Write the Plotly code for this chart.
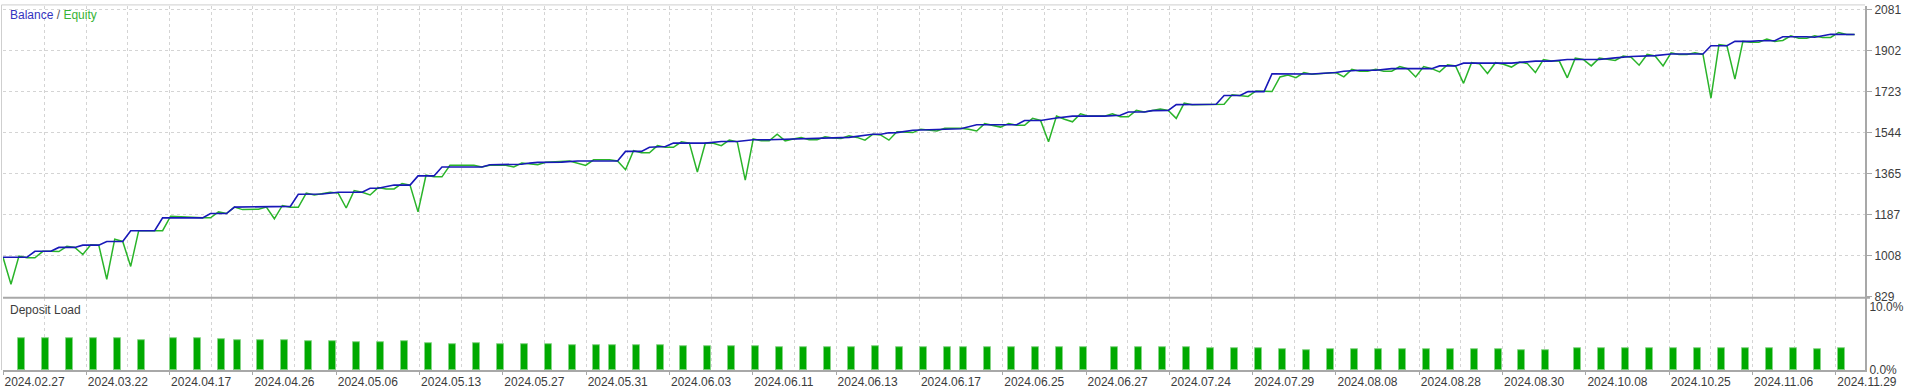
import plotly.graph_objects as go

# ---------------- data ----------------
# x positions are deal-slot indices along the tester axis
balance_slot = [0, 3, 4, 6, 7, 9, 10, 12, 13, 15, 16, 19, 20, 25, 26, 28, 29, 33, 34, 36,
                37, 40, 42, 45, 46, 47, 49, 51, 52, 54, 55, 60, 61, 65, 66, 67, 70, 72, 77, 78,
                80, 81, 83, 84, 88, 90, 92, 94, 96, 99, 102, 104, 106, 109, 110, 111, 112, 114, 117, 120,
                122, 127, 128, 130, 132, 134, 138, 140, 141, 143, 144, 146, 147, 149, 150, 152, 153, 155, 156, 158,
                159, 162, 164, 167, 168, 170, 172, 174, 179, 180, 182, 183, 189, 192, 194, 196, 200, 202, 204, 207,
                209, 213, 214, 216, 217, 219, 220, 222, 223, 226, 227, 229, 232]
balance_value = [1000, 1000, 1026, 1026, 1043, 1043, 1053, 1053, 1069, 1069, 1116, 1116, 1172, 1172, 1191, 1191, 1219, 1219, 1222, 1222,
                 1275, 1276, 1284, 1284, 1301, 1301, 1315, 1315, 1355, 1355, 1394, 1394, 1404, 1406, 1411, 1414, 1415, 1420, 1420, 1462,
                 1462, 1480, 1483, 1498, 1498, 1505, 1505, 1513, 1513, 1516, 1517, 1521, 1523, 1537, 1537, 1543, 1544, 1554, 1559, 1561,
                 1578, 1578, 1597, 1597, 1608, 1616, 1616, 1620, 1634, 1634, 1640, 1641, 1666, 1666, 1668, 1668, 1706, 1706, 1723, 1723,
                 1801, 1801, 1800, 1806, 1812, 1816, 1816, 1823, 1823, 1835, 1835, 1847, 1847, 1856, 1856, 1863, 1863, 1870, 1876, 1880,
                 1887, 1887, 1923, 1923, 1942, 1942, 1945, 1945, 1962, 1962, 1960, 1973, 1972]

equity_slot = [0, 1, 2, 3, 4, 5, 6, 7, 8, 9, 10, 11, 12, 13, 14, 15, 16, 17, 20, 21,
               25, 26, 27, 28, 29, 30, 32, 33, 34, 35, 36, 37, 38, 39, 41, 42, 43, 44, 45, 46,
               47, 48, 49, 50, 51, 52, 53, 54, 55, 56, 59, 60, 61, 63, 64, 65, 67, 68, 71, 73,
               74, 76, 77, 78, 79, 80, 81, 82, 83, 84, 85, 86, 87, 88, 89, 90, 91, 92, 93, 94,
               95, 96, 97, 98, 99, 100, 101, 102, 103, 104, 105, 106, 107, 108, 109, 110, 111, 112, 114, 115,
               117, 118, 120, 121, 122, 123, 125, 126, 127, 128, 129, 130, 131, 132, 133, 134, 135, 136, 138, 139,
               140, 141, 142, 143, 145, 146, 147, 148, 149, 152, 153, 154, 155, 156, 157, 158, 159, 160, 161, 162,
               163, 164, 166, 167, 168, 169, 170, 171, 172, 173, 174, 175, 176, 177, 178, 179, 180, 181, 182, 183,
               184, 185, 186, 187, 188, 189, 190, 191, 192, 193, 194, 195, 196, 197, 198, 199, 200, 201, 202, 203,
               204, 205, 206, 207, 208, 209, 210, 211, 212, 213, 214, 215, 216, 217, 218, 219, 220, 221, 222, 223,
               224, 225, 226, 227, 228, 229, 230, 231, 232]
equity_value = [1000, 882, 1005, 998, 998, 1026, 1026, 1025, 1048, 1043, 1012, 1055, 1053, 904, 1079, 1069, 960, 1116, 1116, 1179,
                1172, 1172, 1198, 1191, 1219, 1208, 1210, 1219, 1168, 1226, 1218, 1218, 1280, 1272, 1284, 1280, 1215, 1291, 1284, 1272,
                1304, 1298, 1298, 1322, 1315, 1198, 1358, 1351, 1351, 1401, 1401, 1394, 1401, 1401, 1394, 1411, 1404, 1415, 1420, 1401,
                1425, 1425, 1420, 1382, 1465, 1456, 1456, 1487, 1480, 1480, 1504, 1498, 1372, 1498, 1497, 1487, 1511, 1504, 1337, 1516,
                1508, 1508, 1537, 1508, 1516, 1523, 1513, 1513, 1526, 1520, 1518, 1530, 1523, 1511, 1537, 1533, 1511, 1548, 1544, 1559,
                1551, 1563, 1563, 1559, 1551, 1583, 1568, 1584, 1576, 1576, 1606, 1597, 1504, 1616, 1602, 1591, 1626, 1616, 1616, 1626,
                1613, 1613, 1641, 1634, 1647, 1641, 1606, 1673, 1666, 1668, 1668, 1709, 1704, 1702, 1726, 1723, 1723, 1787, 1795, 1784,
                1806, 1799, 1802, 1806, 1787, 1820, 1812, 1812, 1820, 1812, 1812, 1832, 1823, 1787, 1832, 1823, 1809, 1840, 1835, 1759,
                1849, 1844, 1802, 1849, 1842, 1830, 1852, 1845, 1806, 1863, 1856, 1856, 1783, 1869, 1863, 1835, 1869, 1863, 1859, 1878,
                1873, 1838, 1885, 1878, 1835, 1892, 1885, 1885, 1892, 1885, 1694, 1928, 1923, 1777, 1942, 1938, 1938, 1952, 1942, 1946,
                1966, 1956, 1956, 1966, 1959, 1959, 1981, 1972, 1972]

load_slot = [2, 5, 8, 11, 14, 17, 21, 24, 27, 29, 32, 35, 38, 41, 44, 47,
             50, 53, 56, 59, 62, 65, 68, 71, 74, 76, 79, 82, 85, 88, 91, 94, 97, 100, 103, 106, 109, 112, 115,
             118, 120, 123, 126, 129, 132, 135, 139, 142, 145, 148, 151, 154, 157, 160, 163, 166, 169, 172, 175, 178, 181, 184, 187,
             190, 193, 197, 200, 203, 206, 209, 212, 215, 218, 221, 224, 227, 230]
load_pct = [5.0, 5.1, 5.0, 5.0, 5.0, 4.8, 5.0, 5.1, 4.9, 4.8, 4.8, 4.7, 4.5, 4.5, 4.4, 4.4,
            4.6, 4.3, 4.1, 4.3, 4.1, 4.1, 4.1, 4.0, 4.0, 4.0, 3.9, 3.9, 3.8, 3.8, 3.8, 3.8, 3.7, 3.7, 3.7, 3.7, 3.8, 3.7, 3.7,
            3.7, 3.7, 3.7, 3.7, 3.6, 3.6, 3.6, 3.7, 3.6, 3.6, 3.6, 3.5, 3.4, 3.4, 3.3, 3.2, 3.3, 3.3, 3.3, 3.3, 3.3, 3.3, 3.3, 3.3,
            3.2, 3.2, 3.4, 3.4, 3.4, 3.4, 3.5, 3.45, 3.45, 3.45, 3.4, 3.4, 3.3, 3.4]

y_ticks = [829, 1008, 1187, 1365, 1544, 1723, 1902, 2081]
load_ticks = [0, 10]
load_tick_text = ["0.0%", "10.0%"]
x_labels = ["2024.02.27", "2024.03.22", "2024.04.17", "2024.04.26", "2024.05.06", "2024.05.13",
            "2024.05.27", "2024.05.31", "2024.06.03", "2024.06.11", "2024.06.13", "2024.06.17",
            "2024.06.25", "2024.06.27", "2024.07.24", "2024.07.29", "2024.08.08", "2024.08.28",
            "2024.08.30", "2024.10.08", "2024.10.25", "2024.11.06", "2024.11.29"]

# ---------------- styling / layout ----------------
FONT = "Liberation Sans, Arial, sans-serif"
TXT = "#3c3c3c"
GRID = "#d4d4d4"
AXIS = "#a8a8a8"
BLUE = "#1818b8"
GREEN = "#2ab42a"

GRID_STEP = 5.2193          # slots between vertical grid lines
LABEL_STEP = 2 * GRID_STEP  # slots between date labels
X_MAX = 233.3

fig = go.Figure()

fig.add_trace(go.Bar(
    x=load_slot, y=load_pct, width=0.88, offset=-0.12,
    marker=dict(color="#00aa00", line=dict(color="#86d486", width=1)),
    xaxis="x2", yaxis="y2", hoverinfo="skip", showlegend=False))

fig.add_trace(go.Scatter(
    x=equity_slot, y=equity_value, mode="lines",
    line=dict(color=GREEN, width=1.5), xaxis="x", yaxis="y",
    hoverinfo="skip", showlegend=False))

fig.add_trace(go.Scatter(
    x=balance_slot, y=balance_value, mode="lines",
    line=dict(color=BLUE, width=1.6), xaxis="x", yaxis="y",
    hoverinfo="skip", showlegend=False))

fig.update_layout(
    width=1920, height=392,
    margin=dict(l=3, r=55, t=3, b=19),
    paper_bgcolor="white", plot_bgcolor="white",
    font=dict(family=FONT, size=12, color=TXT),
    bargap=0,
    xaxis=dict(domain=[0, 1], range=[0, X_MAX], anchor="y",
               showticklabels=False, ticks="", zeroline=False,
               tickmode="linear", tick0=0, dtick=GRID_STEP,
               showgrid=True, gridcolor=GRID, griddash="dot", gridwidth=1),
    xaxis2=dict(domain=[0, 1], range=[0, X_MAX], anchor="y2", matches="x",
                tickmode="array",
                tickvals=[i * LABEL_STEP for i in range(len(x_labels))],
                ticktext=x_labels,
                ticks="outside", ticklen=3, tickcolor=AXIS,
                ticklabelposition="outside right",
                ticklabeloverflow="allow",
                tickfont=dict(family=FONT, size=12, color=TXT),
                showline=True, linecolor=AXIS, linewidth=2,
                zeroline=False,
                showgrid=True, gridcolor=GRID, griddash="dot", gridwidth=1,
                minor=dict(tick0=0, dtick=GRID_STEP, showgrid=True,
                           gridcolor=GRID, griddash="dot", ticks="")),
    yaxis=dict(domain=[0.2, 1], range=[825.8, 2096.4], anchor="x", side="right",
               tickmode="array", tickvals=y_ticks,
               ticks="outside", ticklen=5, tickcolor=AXIS,
               ticklabeloverflow="allow",
               tickfont=dict(family=FONT, size=12, color=TXT),
               showline=True, linecolor=AXIS, linewidth=2,
               zeroline=False,
               showgrid=True, gridcolor=GRID, griddash="dot", gridwidth=1),
    yaxis2=dict(domain=[0, 0.1973], range=[0, 11.406], anchor="x2", side="right",
                tickmode="array", tickvals=load_ticks, ticktext=load_tick_text,
                ticks="", ticklabeloverflow="allow",
                tickfont=dict(family=FONT, size=12, color=TXT),
                showline=True, linecolor=AXIS, linewidth=2,
                zeroline=False, showgrid=False),
)

# separator between panels, outer frame
fig.add_shape(type="line", xref="paper", yref="paper", x0=0, x1=1.0027,
              y0=0.1986, y1=0.1986, line=dict(color=AXIS, width=2), layer="above")
fig.add_shape(type="line", xref="paper", yref="paper", x0=-0.0008, x1=1,
              y0=1.003, y1=1.003, line=dict(color="#cfcfcf", width=1), layer="above")
fig.add_shape(type="line", xref="paper", yref="paper", x0=-0.0008, x1=-0.0008,
              y0=0, y1=1.003, line=dict(color="#cfcfcf", width=1), layer="above")

fig.add_annotation(xref="paper", yref="paper", x=0.0027, y=0.9765,
                   xanchor="left", yanchor="middle", showarrow=False,
                   text='<span style="color:#3434c0">Balance</span>'
                        '<span style="color:#555555"> / </span>'
                        '<span style="color:#36b436">Equity</span>',
                   font=dict(family=FONT, size=12))
fig.add_annotation(xref="paper", yref="paper", x=0.0027, y=0.1657,
                   xanchor="left", yanchor="middle", showarrow=False,
                   text="Deposit Load", font=dict(family=FONT, size=12, color=TXT))

fig.write_html("out.html")
